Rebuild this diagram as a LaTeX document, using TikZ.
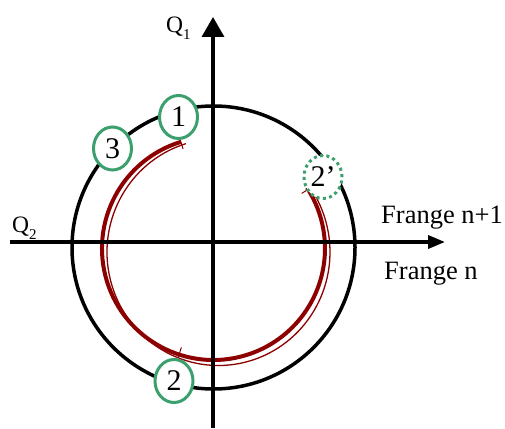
\documentclass[tikz,border=0pt]{standalone}
\usepackage{fontspec}
\setmainfont{Liberation Serif}
\usetikzlibrary{arrows.meta,shapes.geometric}
\definecolor{darkred}{RGB}{140,0,0}
\definecolor{mygreen}{RGB}{60,160,110}
\begin{document}
\begin{tikzpicture}[x=1pt,y=1pt,
  axisline/.style={line width=3.5pt},
  ring/.style={line width=3.5pt},
  redthick/.style={draw=darkred, line width=4pt},
  redthin/.style={draw=darkred, line width=1.3pt},
  redtick/.style={draw=darkred, line width=1pt},
  numcirc/.style={ellipse, draw=mygreen, line width=3pt, fill=white,
    minimum width=38pt, minimum height=43pt, inner sep=0pt,
    font=\fontsize{30}{30}\selectfont},
  dotcirc/.style={numcirc, dash pattern=on 3pt off 3.35pt},
  lbl/.style={anchor=base west, inner sep=0pt, font=\fontsize{26.5}{26.5}\selectfont},
  qlbl/.style={anchor=base west, inner sep=0pt, font=\fontsize{23.5}{23.5}\selectfont}]
\useasboundingbox (0,0) rectangle (505,428);
% centres
\coordinate (O) at (213.5,180.5);
\coordinate (C1) at (213.5,179.5);
\coordinate (C2) at (218.5,175.9);
% outer black circle
\draw[ring] (O) circle[radius=141.5];
% red double arc
\draw[redthick] ([shift={(C1)}]107:111.5) arc[start angle=107, end angle=393, radius=111.5];
\draw[redthin] ([shift={(C2)}]107:111.5 and 113.4) arc[start angle=107, end angle=393, x radius=111.5, y radius=113.4];
% ticks
\draw[redtick] ([shift={(C1)}]107:104) -- ([shift={(C1)}]107:114);
\draw[redtick] ([shift={(C1)}]252:104) -- ([shift={(C1)}]252:114);
\draw[redtick] ([shift={(C1)}]32:104) -- ([shift={(C1)}]32:114);
% axes
\coordinate (vb) at (213,0);
\coordinate (vt) at (213,411);
\coordinate (hl) at (10,186);
\coordinate (hr) at (445,186);
\draw[axisline, -{Triangle[length=20pt,width=22pt]}] (vb) -- (vt);
\draw[axisline, -{Triangle[length=17pt,width=13pt]}] (hl) -- (hr);
% numbered circles
\node[numcirc] (c1) at (178.5,311) {1};
\node[numcirc] (c3) at (112.5,279.5) {3};
\node[numcirc] (c2) at (174,47) {2};
\node[dotcirc] (c2p) at (323,251) {2’};
% labels
\node[qlbl] (q1) at (166,395) {Q\raisebox{-7pt}{\fontsize{15}{15}\selectfont 1}};
\node[qlbl] (q2) at (12,195) {Q\raisebox{-7pt}{\fontsize{15}{15}\selectfont 2}};
\node[lbl] (fn1) at (381,204) {Frange n+1};
\node[lbl] (fn) at (384,148) {Frange n};
\end{tikzpicture}
\end{document}
